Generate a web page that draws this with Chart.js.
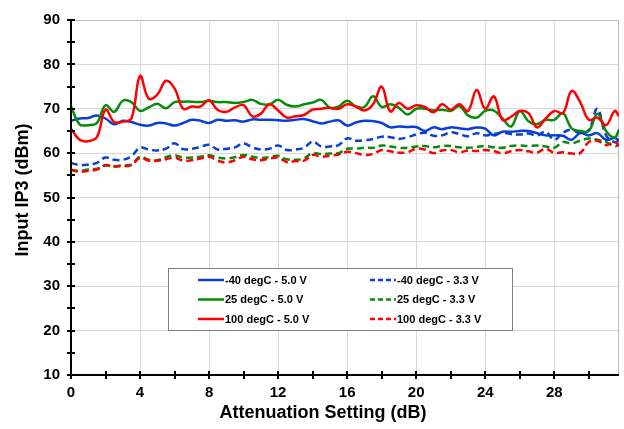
<!DOCTYPE html>
<html><head><meta charset="utf-8">
<script src="https://cdn.jsdelivr.net/npm/chart.js@4.4.0/dist/chart.umd.min.js"></script>
<style>html,body{margin:0;padding:0;background:#fff;}#wrap{width:624px;height:429px;position:relative;}</style>
</head><body><div id="wrap"><canvas id="c" width="624" height="429"></canvas></div>
<script>
// Attenuation setting (dB)
const attenuation = [0,0.5,1,1.5,2,2.5,3,3.5,4,4.5,5,5.5,6,6.5,7,7.5,8,8.5,9,9.5,10,10.5,11,11.5,12,12.5,13,13.5,14,14.5,15,15.5,16,16.5,17,17.5,18,18.5,19,19.5,20,20.5,21,21.5,22,22.5,23,23.5,24,24.5,25,25.5,26,26.5,27,27.5,28,28.5,29,29.5,30,30.5,31,31.5,31.75];
// Input IP3 (dBm)
const neg40_5V0 = [67.3,67.8,67.9,68.5,67.8,66.5,67.3,67.0,66.4,66.2,66.8,66.7,66.2,66.8,67.5,67.3,66.8,67.5,67.3,67.4,67.1,67.6,67.5,67.5,67.4,67.3,67.5,67.7,67.2,66.7,67.1,67.4,66.2,66.9,67.3,67.2,66.8,65.8,66.0,65.9,65.9,65.0,65.8,65.4,65.8,65.6,65.4,65.8,65.5,64.0,64.8,64.8,65.0,65.0,64.5,64.0,64.0,63.9,63.0,64.5,64.0,64.5,63.0,63.4,62.8];
const neg40_3V3 = [57.8,57.3,57.4,57.8,59.0,58.5,58.5,59.3,61.2,60.8,60.6,61.0,62.2,60.9,61.0,61.4,61.9,60.8,61.0,61.3,62.2,61.3,60.8,61.0,61.7,60.7,60.8,61.2,62.6,61.5,61.5,61.8,63.3,62.8,62.9,63.2,63.7,63.6,63.2,63.6,64.2,64.6,63.9,64.0,64.7,64.3,63.8,64.5,64.0,64.3,64.6,64.3,64.2,64.4,64.0,64.8,63.0,64.6,65.3,64.5,65.2,70.0,64.0,62.5,62.8];
const pos25_5V0 = [70.5,66.5,66.3,66.8,70.8,69.3,71.8,71.5,69.5,70.3,71.1,70.1,71.5,71.6,71.6,71.5,71.8,71.5,71.5,71.3,71.5,72.0,71.1,71.0,72.0,70.9,70.5,71.0,71.4,72.0,70.2,70.5,71.8,70.5,70.4,72.8,70.4,71.0,70.2,68.7,70.0,70.0,69.6,69.8,69.5,70.6,68.5,68.0,69.5,69.6,67.8,66.0,69.5,67.2,66.5,67.5,67.5,69.0,65.6,65.0,65.0,68.9,65.0,63.5,65.3];
const pos25_3V3 = [56.2,56.0,56.3,56.5,57.2,57.0,57.3,57.4,59.2,58.5,58.4,59.1,59.5,59.0,59.0,59.2,59.5,59.0,58.8,59.1,59.6,59.2,58.9,59.1,59.4,58.6,58.5,58.8,60.0,59.8,59.9,60.0,61.0,61.0,61.2,61.2,61.7,61.5,61.2,61.2,61.5,61.6,61.3,61.6,61.6,61.3,61.2,61.4,61.6,61.3,61.2,61.6,61.7,61.6,61.7,61.5,61.2,62.5,62.2,62.8,63.3,63.0,62.5,61.5,62.0];
const pos100_5V0 = [65.5,63.0,62.7,63.6,69.8,67.0,67.1,67.8,77.4,72.3,73.2,76.3,74.6,70.0,70.5,70.5,71.9,69.7,69.3,70.3,70.8,68.3,68.9,71.0,69.6,68.0,68.3,68.6,69.8,70.0,70.2,70.0,71.0,70.5,69.6,71.0,75.0,69.4,71.3,70.0,70.8,70.4,69.2,71.0,69.8,71.0,69.5,74.2,70.0,72.8,67.5,68.2,69.5,69.0,65.8,67.8,69.5,69.0,74.0,71.5,67.5,68.0,66.3,69.5,68.3];
const pos100_3V3 = [56.3,55.8,56.0,56.3,57.3,57.0,57.1,57.3,58.9,58.3,58.3,58.6,59.0,58.3,58.4,58.8,59.2,58.3,57.9,58.4,59.2,58.6,58.4,58.8,59.0,58.0,58.2,58.3,59.6,59.2,59.4,59.7,60.3,60.0,59.6,59.8,60.7,60.4,60.1,60.2,61.0,60.8,60.0,60.6,60.7,60.2,60.6,60.5,60.7,60.4,60.0,60.4,60.7,60.4,60.1,61.0,60.0,60.2,59.9,60.0,62.5,62.8,61.8,62.5,61.6];
const seriesNames = ['-40 degC - 5.0 V','-40 degC - 3.3 V','25 degC - 5.0 V','25 degC - 3.3 V','100 degC - 5.0 V','100 degC - 3.3 V'];
const xTickValues = [0,4,8,12,16,20,24,28];
const yTickValues = [10,20,30,40,50,60,70,80,90];

const BLUE = '#0a3fd6', GREEN = '#0a8a0a', RED = '#ff0000';
const FONT = '"Liberation Sans", Arial, sans-serif';
const seriesData = [neg40_5V0, neg40_3V3, pos25_5V0, pos25_3V3, pos100_5V0, pos100_3V3];
const colors = [BLUE, BLUE, GREEN, GREEN, RED, RED];
const dashed = [false, true, false, true, false, true];
const drawOrder = [3, 6, 2, 5, 1, 4];

const datasets = seriesData.map((arr, i) => ({
  label: seriesNames[i],
  data: attenuation.map((x, j) => ({x: x, y: arr[j]})),
  borderColor: colors[i],
  backgroundColor: colors[i],
  borderWidth: 2.5,
  borderDash: dashed[i] ? [7, 4] : [],
  pointRadius: 0,
  tension: 0.4,
  fill: false,
  order: drawOrder[i]
}));

const framePlugin = {
  id: 'frame',
  beforeDatasetsDraw(chart) {
    const {ctx, chartArea: a} = chart;
    ctx.save();
    ctx.strokeStyle = '#bfbfbf';
    ctx.lineWidth = 1;
    ctx.beginPath();
    ctx.moveTo(a.left, a.top + 0.5); ctx.lineTo(a.right - 0.5, a.top + 0.5); ctx.lineTo(a.right - 0.5, a.bottom);
    ctx.stroke();
    ctx.restore();
  },
  afterDatasetsDraw(chart) {
    const {ctx, chartArea: a, scales} = chart;
    ctx.save();
    ctx.strokeStyle = '#000'; ctx.lineWidth = 2;
    ctx.beginPath();
    ctx.moveTo(a.left, a.top); ctx.lineTo(a.left, a.bottom);
    ctx.moveTo(a.left, a.bottom); ctx.lineTo(a.right, a.bottom);
    for (let v = 10; v <= 90; v += 5) {
      const y = Math.round(scales.y.getPixelForValue(v));
      ctx.moveTo(a.left - 4, y); ctx.lineTo(a.left + 4, y);
    }
    for (let v = 0; v <= 30; v += 2) {
      const x = Math.round(scales.x.getPixelForValue(v));
      ctx.moveTo(x, a.bottom - 4); ctx.lineTo(x, a.bottom + 4);
    }
    ctx.stroke();
    // legend
    const bx = 168.5, by = 268.5, bw = 344, bh = 62;
    ctx.fillStyle = '#fff'; ctx.fillRect(bx, by, bw, bh);
    ctx.strokeStyle = '#808080'; ctx.lineWidth = 1; ctx.strokeRect(bx, by, bw, bh);
    ctx.font = 'bold 11px ' + FONT; ctx.textBaseline = 'middle'; ctx.textAlign = 'left';
    const rowsY = [280, 299.5, 319];
    const colX = [198, 370];
    chart.data.datasets.forEach((ds, i) => {
      const col = i % 2, row = Math.floor(i / 2);
      const x0 = colX[col], y0 = rowsY[row];
      ctx.strokeStyle = ds.borderColor; ctx.lineWidth = 2.5;
      ctx.setLineDash(ds.borderDash.length ? [5, 3] : []);
      ctx.beginPath(); ctx.moveTo(x0, y0); ctx.lineTo(x0 + 26, y0); ctx.stroke();
      ctx.setLineDash([]);
      ctx.fillStyle = '#000';
      ctx.fillText(ds.label, x0 + 27, y0 + 0.5);
    });
    ctx.restore();
  },
  afterDraw(chart) {
    const {ctx} = chart;
    ctx.save();
    ctx.fillStyle = '#000';
    ctx.font = 'bold 18px ' + FONT;
    ctx.textAlign = 'center'; ctx.textBaseline = 'middle';
    ctx.fillText('Attenuation Setting (dB)', 323, 413);
    ctx.translate(23, 190); ctx.rotate(-Math.PI / 2);
    ctx.fillText('Input IP3 (dBm)', 0, 0);
    ctx.restore();
  }
};

new Chart(document.getElementById('c'), {
  type: 'line',
  data: {datasets: datasets},
  options: {
    responsive: false,
    animation: false,
    devicePixelRatio: 1,
    layout: {padding: {left: 0, right: 5, top: 11, bottom: 0}},
    plugins: {legend: {display: false}, tooltip: {enabled: false}},
    scales: {
      x: {
        type: 'linear', min: 0, max: 31.75,
        afterFit: s => { s.height = 54; },
        afterBuildTicks: s => { s.ticks = xTickValues.map(v => ({value: v})); },
        ticks: {font: {family: FONT, size: 15, weight: 'bold'}, color: '#000', padding: 9, maxRotation: 0},
        grid: {drawTicks: false, color: c => (c.tick && c.tick.value === 0) ? 'rgba(0,0,0,0)' : '#d9d9d9', lineWidth: 1},
        border: {display: false}
      },
      y: {
        type: 'linear', min: 10, max: 90,
        afterFit: s => { s.width = 71; },
        afterBuildTicks: s => { s.ticks = yTickValues.map(v => ({value: v})); },
        ticks: {font: {family: FONT, size: 15, weight: 'bold'}, color: '#000', padding: 11},
        grid: {drawTicks: false, color: c => (c.tick && c.tick.value === 10) ? 'rgba(0,0,0,0)' : '#d9d9d9', lineWidth: 1},
        border: {display: false}
      }
    }
  },
  plugins: [framePlugin]
});
</script></body></html>
